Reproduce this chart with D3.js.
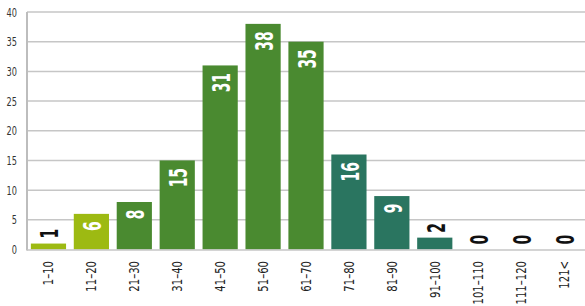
<!DOCTYPE html>
<html>
<head>
<meta charset="utf-8">
<script src="https://cdn.jsdelivr.net/npm/d3@7"></script>
<style>
  body { margin: 0; background: #fff; }
  svg text { font-family: "DejaVu Sans", sans-serif; font-stretch: condensed; }
</style>
</head>
<body>
<svg id="chart" width="585" height="306"></svg>
<script>
// Data
var categories = ["1–10", "11–20", "21–30", "31–40", "41–50", "51–60", "61–70",
                  "71–80", "81–90", "91–100", "101–110", "111–120", "121<"];
var counts = [1, 6, 8, 15, 31, 38, 35, 16, 9, 2, 0, 0, 0];
var groups = ["light", "light", "mid", "mid", "mid", "mid", "mid",
              "dark", "dark", "dark", "dark", "dark", "dark"];
var yTicks = [0, 5, 10, 15, 20, 25, 30, 35, 40];

var colors = { light: "#9dba12", mid: "#4a8a30", dark: "#2a7560" };

var svg = d3.select("#chart");
var plotLeft = 27, plotRight = 585, plotTop = 12, plotBottom = 249.5;

var x = d3.scaleBand()
  .domain(categories)
  .range([plotLeft, plotRight])
  .paddingInner(0.18)
  .paddingOuter(0.09);

var y = d3.scaleLinear().domain([0, 40]).range([plotBottom, plotTop]);

// Gridlines
svg.append("g").selectAll("line")
  .data(yTicks.filter(function(d) { return d > 0; }))
  .enter().append("line")
  .attr("x1", plotLeft).attr("x2", plotRight)
  .attr("y1", function(d) { return y(d); })
  .attr("y2", function(d) { return y(d); })
  .attr("stroke", "#c6c6c6")
  .attr("stroke-width", 1.5);

// Y tick labels
svg.append("g").selectAll("text")
  .data(yTicks)
  .enter().append("text")
  .attr("transform", function(d) { return "translate(17," + (y(d) + 4.5) + ") scale(0.7,1)"; })
  .attr("text-anchor", "end")
  .attr("font-size", 13)
  .attr("fill", "#333")
  .text(function(d) { return d; });

// Bars
var data = categories.map(function(c, i) { return { cat: c, v: counts[i], g: groups[i] }; });

svg.append("g").selectAll("rect")
  .data(data)
  .enter().append("rect")
  .attr("x", function(d) { return x(d.cat); })
  .attr("width", x.bandwidth())
  .attr("y", function(d) { return y(d.v); })
  .attr("height", function(d) { return plotBottom - y(d.v); })
  .attr("fill", function(d) { return colors[d.g]; });

// Axis lines
svg.append("line")
  .attr("x1", plotLeft).attr("x2", plotLeft)
  .attr("y1", plotTop).attr("y2", plotBottom + 1)
  .attr("stroke", "#bdbdbd").attr("stroke-width", 2);
svg.append("line")
  .attr("x1", plotLeft).attr("x2", plotRight)
  .attr("y1", plotBottom + 0.5).attr("y2", plotBottom + 0.5)
  .attr("stroke", "#c6c6c6").attr("stroke-width", 1.5);

// Value labels (rotated)
svg.append("g").selectAll("text")
  .data(data)
  .enter().append("text")
  .attr("transform", function(d) {
    var cx = x(d.cat) + x.bandwidth() / 2 + 10;
    var inside = d.v >= 5;
    var yy = inside ? y(d.v) + 7.5 : y(d.v) - 5;
    return "translate(" + cx + "," + yy + ") rotate(-90) scale(0.62,1)";
  })
  .attr("text-anchor", function(d) { return d.v >= 5 ? "end" : "start"; })
  .attr("font-size", 25)
  .attr("font-weight", "bold")
  .attr("fill", function(d) { return d.v >= 5 ? "#fff" : "#111"; })
  .text(function(d) { return d.v; });

// X category labels (rotated)
svg.append("g").selectAll("text")
  .data(categories)
  .enter().append("text")
  .attr("transform", function(d) {
    var cx = x(d) + x.bandwidth() / 2 + 5;
    return "translate(" + cx + ",261) rotate(-90) scale(0.8,1)";
  })
  .attr("text-anchor", "end")
  .attr("font-size", 14)
  .attr("fill", "#222")
  .text(function(d) { return d; });
</script>
</body>
</html>
